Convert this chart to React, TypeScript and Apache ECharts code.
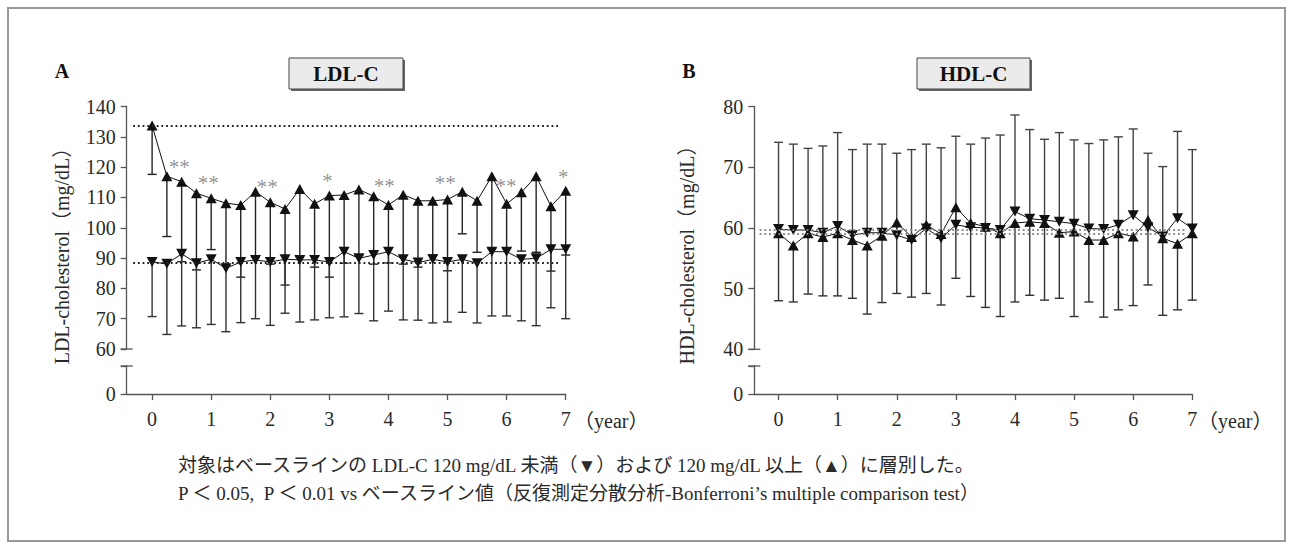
import React, { useEffect, useRef } from "react";
import * as echarts from "echarts";

// ---- data ----
const years = [0, 0.25, 0.5, 0.75, 1, 1.25, 1.5, 1.75, 2, 2.25, 2.5, 2.75, 3, 3.25, 3.5, 3.75, 4, 4.25, 4.5, 4.75, 5, 5.25, 5.5, 5.75, 6, 6.25, 6.5, 6.75, 7];
const xTicks = [0, 1, 2, 3, 4, 5, 6, 7];

// LDL-C: baseline >=120 (▲) and <120 (▼)
const ldlHigh = [133.7, 117.0, 115.2, 111.4, 109.7, 108.1, 107.5, 111.9, 108.4, 106.2, 112.8, 107.9, 110.6, 110.8, 112.6, 110.4, 107.5, 110.9, 108.9, 108.9, 109.3, 111.9, 108.9, 117.0, 107.9, 111.7, 117.0, 107.1, 112.2];
const ldlHighSdEnd = [117.6, 97.1, 88.8, 86.1, 92.8, 87.6, 83.7, 90.4, 88.0, 81.1, 90.4, 87.0, 83.7, 88.3, 90.9, 88.0, 88.4, 88.0, 87.0, 91.0, 85.8, 98.0, 91.9, 93.1, 93.1, 92.3, 91.9, 85.7, 91.0];
const ldlLow = [88.7, 88.1, 91.4, 88.3, 89.6, 86.6, 88.7, 89.4, 88.7, 89.6, 89.4, 89.4, 88.7, 92.1, 89.9, 91.0, 92.1, 89.6, 88.5, 89.6, 88.7, 89.6, 88.3, 92.1, 92.1, 89.6, 89.9, 92.9, 92.9];
const ldlLowSdEnd = [70.7, 64.8, 67.6, 67.0, 68.1, 65.7, 68.7, 70.0, 67.8, 71.8, 68.9, 69.6, 70.3, 70.6, 71.7, 69.3, 72.5, 69.6, 69.5, 68.6, 68.9, 72.1, 68.6, 70.9, 70.9, 69.3, 67.7, 73.6, 70.0];
const ldlHighBase = 133.5;
const ldlLowBase = 88.3;

// significance marks on LDL-C (▲ group)
const sigX = [0.46, 0.95, 1.95, 2.97, 3.93, 4.96, 5.99, 6.96];
const sigY = [121.8, 116.3, 115.2, 117.2, 115.4, 116.5, 115.4, 118.3];
const sigLabel = ["**", "**", "**", "*", "**", "**", "**", "*"];

// HDL-C
const hdlLow = [59.8, 59.65, 59.65, 59.2, 60.3, 58.8, 59.2, 59.2, 58.8, 58.0, 59.9, 58.3, 60.5, 60.1, 60.0, 59.65, 62.7, 61.5, 61.3, 61.0, 60.7, 59.9, 59.8, 60.5, 62.1, 60.1, 58.6, 61.6, 59.9];
const hdlLowSdEnd = [74.1, 73.8, 73.1, 73.5, 75.7, 72.9, 73.8, 73.8, 72.3, 72.9, 73.8, 73.2, 75.1, 73.8, 74.8, 75.3, 78.6, 76.2, 74.6, 75.7, 74.5, 73.9, 74.5, 75.0, 76.3, 72.3, 70.1, 75.9, 72.9];
const hdlHigh = [59.1, 57.1, 59.1, 58.5, 59.1, 58.0, 57.1, 58.7, 60.9, 58.5, 60.5, 59.0, 63.4, 60.8, 60.2, 59.1, 60.8, 61.0, 60.8, 59.2, 59.4, 58.0, 58.0, 59.1, 58.6, 61.3, 58.3, 57.4, 59.1];
const hdlHighSdEnd = [48.0, 47.8, 49.1, 48.8, 48.8, 48.4, 45.8, 47.7, 49.2, 48.6, 49.2, 47.3, 51.7, 48.7, 46.9, 45.4, 47.8, 48.9, 48.1, 48.4, 45.4, 47.8, 45.3, 46.5, 47.2, 50.6, 45.6, 46.5, 48.1];
const hdlLowBase = 59.7;
const hdlHighBase = 59.0;

const SERIF = "'Liberation Serif', 'Noto Sans CJK JP', serif";
const AXIS_COLOR = "#555";
const TEXT_COLOR = "#2a2a2a";

function errSeries(xi: number, yi: number, mean: number[], end: number[], color: string) {
  return {
    type: "custom",
    xAxisIndex: xi,
    yAxisIndex: yi,
    z: 1,
    silent: true,
    encode: { x: 0, y: [1, 2] },
    data: years.map((x, i) => [x, mean[i], end[i]]),
    renderItem: (params: any, api: any) => {
      const x = api.value(0);
      const p1 = api.coord([x, api.value(1)]);
      const p2 = api.coord([x, api.value(2)]);
      const st = { stroke: color, lineWidth: 1.4 };
      return {
        type: "group",
        children: [
          { type: "line", shape: { x1: p1[0], y1: p1[1], x2: p2[0], y2: p2[1] }, style: st },
          { type: "line", shape: { x1: p2[0] - 4.5, y1: p2[1], x2: p2[0] + 4.5, y2: p2[1] }, style: st },
        ],
      };
    },
  };
}

function lineSeries(xi: number, yi: number, vals: number[], down: boolean, base: number, baseColor: string) {
  return {
    type: "line",
    xAxisIndex: xi,
    yAxisIndex: yi,
    z: 3,
    data: years.map((x, i) => [x, vals[i]]),
    symbol: "triangle",
    symbolSize: [11, 10],
    symbolRotate: down ? 180 : 0,
    itemStyle: { color: "#111" },
    lineStyle: { color: "#111", width: 1 },
    markLine: {
      silent: true,
      symbol: "none",
      label: { show: false },
      lineStyle: { color: baseColor, width: 2, type: [1.8, 2.9] },
      data: [[{ coord: [-0.32, base] }, { coord: [6.9, base] }]],
    },
  };
}

function xAxes(grid: number, min: number, shown: boolean) {
  return {
    type: "value",
    gridIndex: grid,
    min,
    max: 7,
    show: shown,
    axisLine: { show: true, onZero: false, lineStyle: { color: AXIS_COLOR, width: 1.3 } },
    axisTick: { show: true, customValues: xTicks, length: 6, lineStyle: { color: AXIS_COLOR, width: 1.3 } },
    axisLabel: { customValues: xTicks, margin: 15, color: TEXT_COLOR, fontFamily: SERIF, fontSize: 20 },
    splitLine: { show: false },
  };
}

function yAxisMain(grid: number, min: number, max: number, onlyZero: boolean) {
  return {
    type: "value",
    gridIndex: grid,
    position: "left",
    min,
    max,
    interval: 10,
    axisLine: { show: true, onZero: false, lineStyle: { color: AXIS_COLOR, width: 1.3 } },
    axisTick: { show: true, length: 6, lineStyle: { color: AXIS_COLOR, width: 1.3 } },
    axisLabel: {
      margin: 11,
      color: TEXT_COLOR,
      fontFamily: SERIF,
      fontSize: 20,
      formatter: (v: number) => (onlyZero ? (v === 0 ? "0" : "") : String(v)),
    },
    splitLine: { show: false },
  };
}

// small caps drawn across the axis at both ends of the axis break
function breakCap(x: number, y: number) {
  return { type: "line", shape: { x1: x - 6, y1: y, x2: x + 6, y2: y }, style: { stroke: AXIS_COLOR, lineWidth: 1.3 } };
}

function boxTitle(x: number, y: number, w: number, h: number, label: string) {
  return [
    { type: "rect", shape: { x: x + 2, y: y + 2, width: w, height: h }, style: { fill: "#666" } },
    { type: "rect", shape: { x, y, width: w, height: h }, style: { fill: "#ebebeb", stroke: "#444", lineWidth: 1 } },
    {
      type: "text",
      x: x + w / 2,
      y: y + h / 2,
      style: { text: label, fill: "#111", font: `bold 21px ${SERIF}`, textAlign: "center", textVerticalAlign: "middle" },
    },
  ];
}

export default function App() {
  const ref = useRef<HTMLDivElement>(null);
  useEffect(() => {
    document.body.style.margin = "0";
    if (!ref.current) return;
    const chart = echarts.init(ref.current, undefined, { renderer: "svg" });
    const sigSeries = {
      type: "scatter",
      xAxisIndex: 0,
      yAxisIndex: 0,
      z: 4,
      symbolSize: 1,
      itemStyle: { color: "rgba(0,0,0,0)" },
      data: sigX.map((x, i) => [x, sigY[i], sigLabel[i]]),
      label: {
        show: true,
        position: "inside",
        offset: [0, 5],
        formatter: (p: any) => p.data[2],
        color: "#777",
        fontFamily: SERIF,
        fontSize: 21,
      },
    };
    chart.setOption({
      animation: false,
      grid: [
        { left: 126.7, top: 106.5, width: 439, height: 242.5 },
        { left: 126.7, top: 366, width: 439, height: 28 },
        { left: 754.3, top: 106.5, width: 438, height: 242.8 },
        { left: 754.3, top: 366, width: 438, height: 28 },
      ],
      xAxis: [xAxes(0, -0.43, false), xAxes(1, -0.43, true), xAxes(2, -0.41, false), xAxes(3, -0.41, true)],
      yAxis: [
        yAxisMain(0, 60, 140, false),
        yAxisMain(1, 0, 10, true),
        yAxisMain(2, 40, 80, false),
        yAxisMain(3, 0, 10, true),
      ],
      series: [
        errSeries(0, 0, ldlHigh, ldlHighSdEnd, "#222"),
        errSeries(0, 0, ldlLow, ldlLowSdEnd, "#333"),
        lineSeries(0, 0, ldlHigh, false, ldlHighBase, "#222"),
        lineSeries(0, 0, ldlLow, true, ldlLowBase, "#222"),
        sigSeries,
        errSeries(2, 2, hdlLow, hdlLowSdEnd, "#444"),
        errSeries(2, 2, hdlHigh, hdlHighSdEnd, "#333"),
        lineSeries(2, 2, hdlLow, true, hdlLowBase, "#888"),
        lineSeries(2, 2, hdlHigh, false, hdlHighBase, "#888"),
      ],
      graphic: [
        { type: "rect", shape: { x: 8, y: 8, width: 1277, height: 533 }, style: { fill: "none", stroke: "#999", lineWidth: 2 } },
        breakCap(126.7, 349),
        breakCap(126.7, 366),
        breakCap(754.3, 349.3),
        breakCap(754.3, 366),
        { type: "text", x: 62, y: 71, style: { text: "A", fill: "#111", font: `bold 20px ${SERIF}`, textAlign: "center", textVerticalAlign: "middle" } },
        { type: "text", x: 689, y: 71, style: { text: "B", fill: "#111", font: `bold 20px ${SERIF}`, textAlign: "center", textVerticalAlign: "middle" } },
        ...boxTitle(289, 58, 114, 31, "LDL-C"),
        ...boxTitle(917, 58, 113, 31, "HDL-C"),
        {
          type: "text", x: 62, y: 251, rotation: Math.PI / 2,
          style: { text: "LDL-cholesterol（mg/dL）", fill: TEXT_COLOR, font: `20px ${SERIF}`, textAlign: "center", textVerticalAlign: "middle" },
        },
        {
          type: "text", x: 687, y: 250, rotation: Math.PI / 2,
          style: { text: "HDL-cholesterol（mg/dL）", fill: TEXT_COLOR, font: `20px ${SERIF}`, textAlign: "center", textVerticalAlign: "middle" },
        },
        { type: "text", x: 574, y: 421, style: { text: "（year）", fill: TEXT_COLOR, font: `20px ${SERIF}`, textVerticalAlign: "middle" } },
        { type: "text", x: 1198, y: 421, style: { text: "（year）", fill: TEXT_COLOR, font: `20px ${SERIF}`, textVerticalAlign: "middle" } },
        {
          type: "text", x: 178, y: 465,
          style: { text: "対象はベースラインの LDL-C 120 mg/dL 未満（▼）および 120 mg/dL 以上（▲）に層別した。", fill: TEXT_COLOR, font: `19px ${SERIF}`, textVerticalAlign: "middle" },
        },
        {
          type: "text", x: 178, y: 493,
          style: { text: "P ＜ 0.05,  P ＜ 0.01 vs ベースライン値（反復測定分散分析-Bonferroni’s multiple comparison test）", fill: TEXT_COLOR, font: `19px ${SERIF}`, textVerticalAlign: "middle" },
        },
      ],
    });
    return () => chart.dispose();
  }, []);
  return <div ref={ref} style={{ width: 1293, height: 549 }} />;
}
